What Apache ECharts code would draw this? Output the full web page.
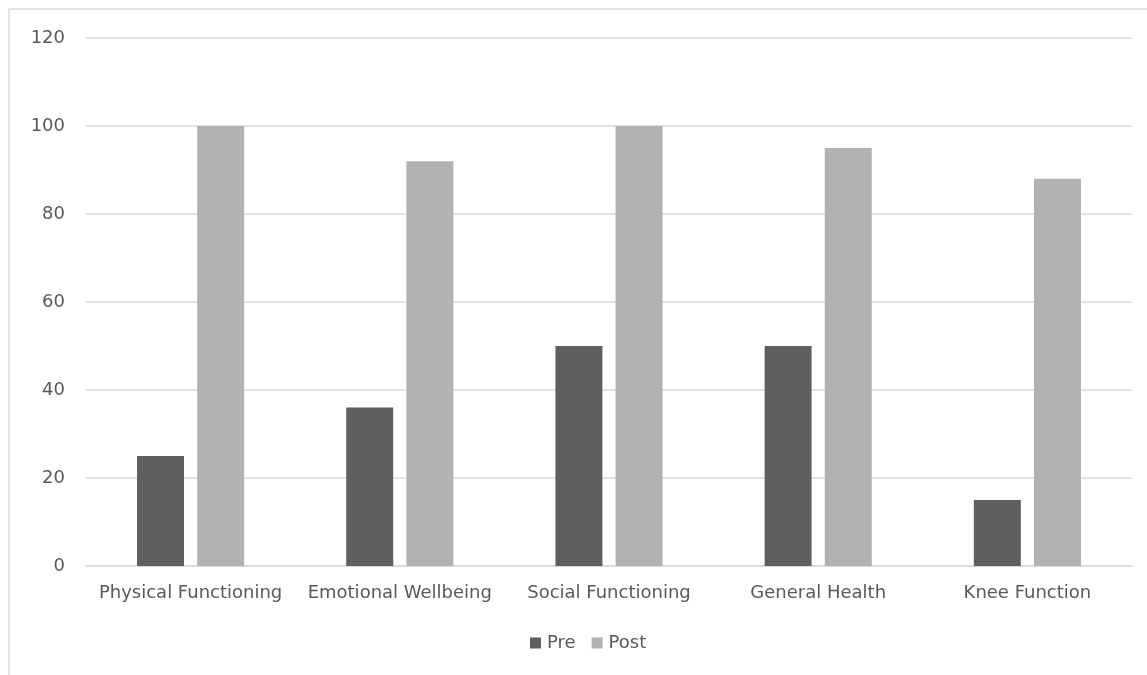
<!DOCTYPE html>
<html>
<head>
<meta charset="utf-8">
<script src="https://cdn.jsdelivr.net/npm/echarts@6/dist/echarts.min.js"></script>
<style>
  html, body { margin: 0; padding: 0; background: #fff; }
  #chart { width: 1147px; height: 675px; }
</style>
</head>
<body>
<div id="chart"></div>
<script>
// Quality-of-life domain scores before and after treatment
const categories = ['Physical Functioning', 'Emotional Wellbeing', 'Social Functioning', 'General Health', 'Knee Function'];
const preScores = [25, 36, 50, 50, 15];
const postScores = [100, 92, 100, 95, 88];
const seriesNames = ['Pre', 'Post'];

const textColor = '#595959';
const fontFamily = '"DejaVu Sans", sans-serif';

const chart = echarts.init(document.getElementById('chart'));
chart.setOption({
  animation: false,
  backgroundColor: '#ffffff',
  textStyle: { fontFamily: fontFamily },
  graphic: [{
    type: 'rect',
    shape: { x: 9, y: 9, width: 1160, height: 700 },
    style: { fill: 'none', stroke: '#d9d9d9', lineWidth: 1.5 },
    silent: true
  }],
  grid: { left: 86, right: 15, top: 38, bottom: 109, containLabel: false },
  legend: {
    data: seriesNames,
    top: 634,
    left: 530,
    padding: 0,
    itemWidth: 11,
    itemHeight: 11,
    itemGap: 16,
    icon: 'rect',
    textStyle: { color: textColor, fontSize: 18, fontFamily: fontFamily, padding: [0, 0, 0, 1] }
  },
  xAxis: {
    type: 'category',
    data: categories,
    axisLine: { lineStyle: { color: '#d9d9d9', width: 1.5 } },
    axisTick: { show: false },
    axisLabel: { color: textColor, fontSize: 18, margin: 18, interval: 0 }
  },
  yAxis: {
    type: 'value',
    min: 0,
    max: 120,
    interval: 20,
    axisLine: { show: false },
    axisTick: { show: false },
    axisLabel: { color: textColor, fontSize: 18, margin: 21 },
    splitLine: { lineStyle: { color: '#d9d9d9', width: 1.5 } }
  },
  series: [
    {
      name: seriesNames[0],
      type: 'bar',
      data: preScores,
      barWidth: 47,
      barGap: '28%',
      itemStyle: { color: '#5f5f5f' }
    },
    {
      name: seriesNames[1],
      type: 'bar',
      data: postScores,
      barWidth: 47,
      barGap: '28%',
      itemStyle: { color: '#b2b2b2' }
    }
  ]
});
</script>
</body>
</html>
